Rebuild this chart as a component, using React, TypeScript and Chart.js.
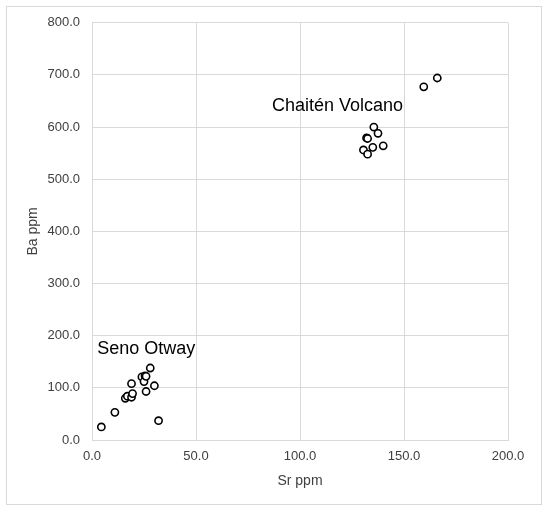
import React, { useEffect, useRef } from "react";
import { Chart, registerables } from "chart.js";

Chart.register(...registerables);

const otwaySr = [4.5, 11, 32, 16, 17, 19, 19.5, 19, 26, 30, 24, 25.5, 25, 28, 26];
const otwayBa = [25, 53, 37, 80, 84, 82, 89, 108, 93, 104, 121, 123, 112, 138, 122];
const chaitenSr = [159.5, 166, 135.5, 137.5, 132, 132.5, 140, 135, 130.5, 132.5];
const chaitenBa = [677, 694, 600, 588, 579, 578, 564, 561, 556, 548];

const groupLabels = ["Seno Otway", "Chaitén Volcano"];
const groupLabelSr = [2.5, 86.5];
const groupLabelBa = [174, 640];

const xTitle = "Sr ppm";
const yTitle = "Ba ppm";

const FONT = "'Liberation Sans', Arial, sans-serif";

const framePlugin = {
  id: "frame",
  beforeDraw(chart: any) {
    const { ctx, width, height } = chart;
    ctx.save();
    ctx.fillStyle = "#ffffff";
    ctx.fillRect(0, 0, width, height);
    ctx.strokeStyle = "#d9d9d9";
    ctx.lineWidth = 1;
    ctx.strokeRect(6.5, 6.5, 535, 498);
    ctx.restore();
  },
  afterDatasetsDraw(chart: any) {
    const { ctx, scales } = chart;
    ctx.save();
    ctx.fillStyle = "#000000";
    ctx.font = `18px ${FONT}`;
    ctx.textAlign = "left";
    ctx.textBaseline = "middle";
    groupLabels.forEach((t, i) => {
      ctx.fillText(t, scales.x.getPixelForValue(groupLabelSr[i]), scales.y.getPixelForValue(groupLabelBa[i]));
    });
    ctx.restore();
  },
};

export default function App() {
  const ref = useRef<HTMLCanvasElement>(null);
  useEffect(() => {
    document.body.style.margin = "0";
    const pts = (xs: number[], ys: number[]) => xs.map((x, i) => ({ x, y: ys[i] }));
    const pointStyle = {
      pointRadius: 3.6,
      pointBorderWidth: 1.6,
      pointBackgroundColor: "#ffffff",
      pointBorderColor: "#000000",
      showLine: false,
    };
    const chart = new Chart(ref.current!, {
      type: "scatter",
      data: {
        datasets: [
          { label: groupLabels[0], data: pts(otwaySr, otwayBa), ...pointStyle },
          { label: groupLabels[1], data: pts(chaitenSr, chaitenBa), ...pointStyle },
        ],
      },
      options: {
        animation: false,
        responsive: false,
        maintainAspectRatio: false,
        layout: { padding: { left: 0, right: 42, top: 22.7, bottom: 0 } },
        plugins: { legend: { display: false }, tooltip: { enabled: false } },
        scales: {
          x: {
            type: "linear",
            min: 0,
            max: 200,
            afterFit: (s: any) => {
              s.height = 72;
            },
            grid: { color: "#d9d9d9", drawTicks: false },
            border: { color: "#d9d9d9" },
            ticks: {
              stepSize: 50,
              padding: 9,
              color: "#404040",
              font: { family: FONT, size: 13 },
              callback: (v: any) => Number(v).toFixed(1),
            },
            title: {
              display: true,
              text: xTitle,
              color: "#404040",
              font: { family: FONT, size: 14 },
              padding: { top: 0, bottom: 22.6 },
            },
          },
          y: {
            type: "linear",
            min: 0,
            max: 800,
            afterFit: (s: any) => {
              s.width = 92;
            },
            grid: { color: "#d9d9d9", drawTicks: false },
            border: { color: "#d9d9d9" },
            ticks: {
              stepSize: 100,
              padding: 12,
              color: "#404040",
              font: { family: FONT, size: 13 },
              callback: (v: any) => Number(v).toFixed(1),
            },
            title: {
              display: true,
              text: yTitle,
              color: "#404040",
              font: { family: FONT, size: 14 },
              padding: { top: 24.6, bottom: 0 },
            },
          },
        },
      },
      plugins: [framePlugin],
    });
    return () => chart.destroy();
  }, []);
  return (
    <div style={{ width: 550, height: 512 }}>
      <canvas ref={ref} width={550} height={512} style={{ width: 550, height: 512 }} />
    </div>
  );
}
